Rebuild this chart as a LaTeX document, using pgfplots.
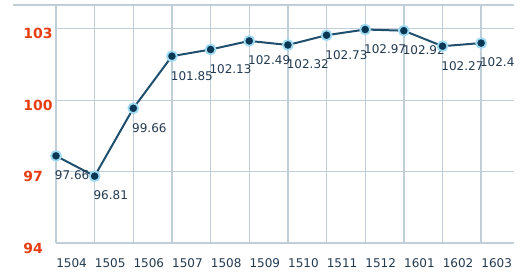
\documentclass[border=0pt]{standalone}
\usepackage{fontspec}
\setmainfont{DejaVu Sans}
\usepackage{pgfplots}
\pgfplotsset{compat=1.18}
\usepackage{pgfplotstable}
\definecolor{gridc}{RGB}{192,206,216}
\definecolor{linec}{RGB}{31,79,108}
\definecolor{markc}{RGB}{10,56,84}
\definecolor{haloc}{RGB}{160,218,242}
\definecolor{ytc}{RGB}{230,62,20}
\definecolor{txtc}{RGB}{35,58,80}
\pgfplotstableread{
x y label
0 97.66 97.66
1 96.81 96.81
2 99.66 99.66
3 101.85 101.85
4 102.13 102.13
5 102.49 102.49
6 102.32 102.32
7 102.73 102.73
8 102.97 102.97
9 102.92 102.92
10 102.27 102.27
11 102.4 102.4
}\data
\begin{document}
\begin{tikzpicture}[x=1pt,y=1pt]
\useasboundingbox (0,0) rectangle (398.25,207.75);
\begin{axis}[
  at={(42pt,25.5pt)}, anchor=south west,
  scale only axis, width=343.5pt, height=178.5pt,
  xmin=0, xmax=11.85, ymin=94, ymax=104,
  xtick={0,...,11},
  xticklabels={1504,1505,1506,1507,1508,1509,1510,1511,1512,1601,1602,1603},
  ytick={94,97,100,103},
  yticklabels={94,97,100,103},
  grid=major,
  major grid style={gridc, line width=1pt},
  axis line style={draw=none},
  tick style={draw=none},
  xticklabel style={anchor=north west, inner sep=0pt, yshift=-11.25pt, font=\fontsize{9}{10}\selectfont, text=txtc},
  yticklabel style={anchor=west, inner sep=0pt, xshift=-24.75pt, yshift=-3.75pt, font=\fontsize{10.5}{12}\selectfont\bfseries, text=ytc},
  clip=false,
]
\addplot[linec, line width=1.5pt, mark=*, mark size=3.7pt,
  mark options={fill=markc, draw=haloc, line width=1.4pt},
  nodes near coords, point meta=explicit symbolic,
  every node near coord/.append style={anchor=north west, inner sep=0pt, xshift=-1.5pt, yshift=-10.5pt, font=\fontsize{9}{10}\selectfont, text=txtc}]
  table[x=x, y=y, meta=label] {\data};
\end{axis}
\draw[gridc, line width=1pt] (9.75,204) -- (385.5,204);
\end{tikzpicture}
\end{document}
